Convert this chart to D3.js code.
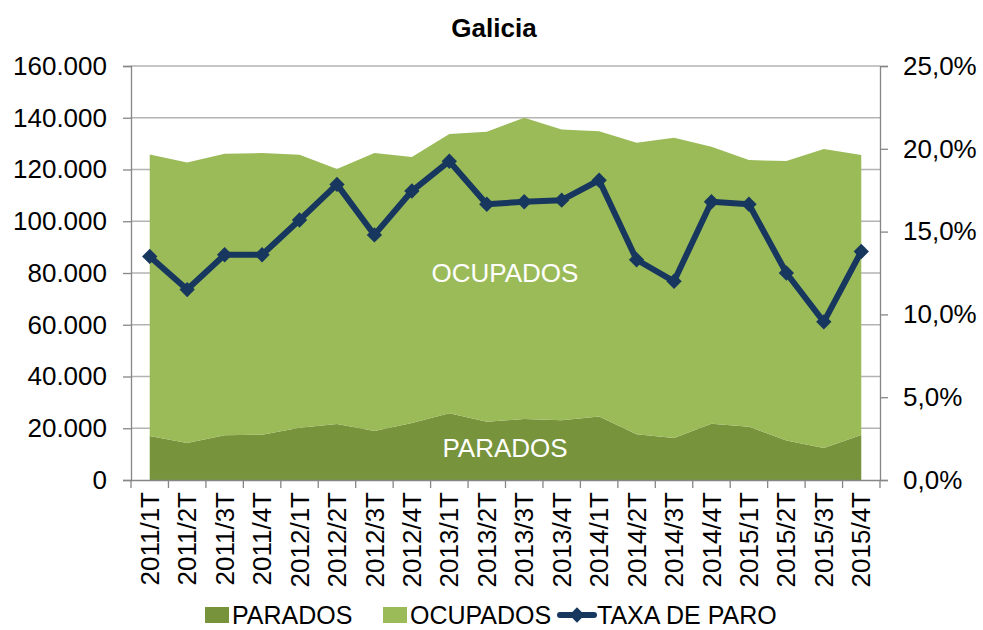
<!DOCTYPE html>
<html><head><meta charset="utf-8">
<script src="https://cdn.jsdelivr.net/npm/d3@7"></script>
<style>
html,body{margin:0;padding:0;background:#fff;}
svg{display:block;font-family:"Liberation Sans",Arial,sans-serif;}
</style></head>
<body><svg id="chart" width="983" height="630"></svg>
<script>
const categories = ["2011/1T","2011/2T","2011/3T","2011/4T","2012/1T","2012/2T","2012/3T","2012/4T","2013/1T","2013/2T","2013/3T","2013/4T","2014/1T","2014/2T","2014/3T","2014/4T","2015/1T","2015/2T","2015/3T","2015/4T"];
const parados = [17000,14300,17250,17500,20200,21650,18900,22050,25750,22550,23550,23050,24500,17650,16200,21750,20600,15300,12350,17350];
const totalActivos = [125800,122750,126100,126350,125700,120150,126350,124800,133700,134600,140000,135500,134750,130350,132300,128800,123650,123250,127900,125600];
const ocupados = totalActivos.map((t,i)=>t-parados[i]);
const taxaParo = [13.5,11.5,13.6,13.6,15.7,17.85,14.8,17.45,19.25,16.65,16.8,16.9,18.1,13.3,12.0,16.8,16.65,12.5,9.55,13.8];
const leftTicks = [0,20000,40000,60000,80000,100000,120000,140000,160000];
const rightTicks = [0,5,10,15,20,25];

const svg = d3.select("#chart");
const L=131, R=880, T=66, B=480;
const locale = d3.formatLocale({decimal:",",thousands:".",grouping:[3],currency:["","€"]});
const fmtL = locale.format(",.0f");
const fmtR = v => locale.format(".1f")(v) + "%";

const x = d3.scaleBand().domain(categories).range([L,R]).padding(0);
const cx = c => x(c) + x.bandwidth()/2;
const y = d3.scaleLinear().domain([0,160000]).range([B,T]);
const y2 = d3.scaleLinear().domain([0,25]).range([B,T]);

// gridlines
svg.append("g").selectAll("line").data(leftTicks.filter(v=>v>0)).join("line")
  .attr("x1",L).attr("x2",R).attr("y1",d=>y(d)).attr("y2",d=>y(d))
  .attr("stroke","#b3b3b3").attr("stroke-width",1.3);

const stackData = categories.map((c,i)=>({c, parados:parados[i], ocupados:ocupados[i]}));
const stack = d3.stack().keys(["parados","ocupados"])(stackData);
const colors = {parados:"#77933C", ocupados:"#9BBB59"};
const area = d3.area().x(d=>cx(d.data.c)).y0(d=>y(d[0])).y1(d=>y(d[1]));
svg.append("g").selectAll("path").data(stack).join("path")
  .attr("d",area).attr("fill",d=>colors[d.key]);

// axes
const gl = svg.append("g").attr("transform",`translate(${L},0)`)
  .call(d3.axisLeft(y).tickValues(leftTicks).tickFormat(fmtL).tickSize(8).tickPadding(16));
const gr = svg.append("g").attr("transform",`translate(${R},0)`)
  .call(d3.axisRight(y2).tickValues(rightTicks).tickFormat(fmtR).tickSize(8).tickPadding(15));
const gb = svg.append("g").attr("transform",`translate(0,${B})`)
  .call(d3.axisBottom(x).tickSize(0).tickFormat(d=>d));
[gl,gr,gb].forEach(g=>{
  g.select(".domain").attr("stroke","#868686").attr("stroke-width",1.3);
  g.selectAll(".tick line").attr("stroke","#868686").attr("stroke-width",1.3);
  g.selectAll("text").attr("font-size",26).attr("fill","#000").attr("font-family","Liberation Sans, Arial, sans-serif");
});
gb.select(".domain").attr("d",`M${L},0.5H${R}`);
gb.selectAll(".tick text").attr("transform","rotate(-90)").attr("text-anchor","end")
  .attr("x",-12).attr("y",0).attr("dy","0.35em");
// category boundary ticks
gb.append("g").selectAll("line").data(categories.map((c,i)=>i).concat([categories.length])).join("line")
  .attr("x1",i=>L + i*x.bandwidth()).attr("x2",i=>L + i*x.bandwidth())
  .attr("y1",0).attr("y2",8).attr("stroke","#868686").attr("stroke-width",1.3);

// line
const line = d3.line().x((d,i)=>cx(categories[i])).y(d=>y2(d));
svg.append("path").datum(taxaParo).attr("d",line).attr("fill","none")
  .attr("stroke","#17375E").attr("stroke-width",6).attr("stroke-linejoin","round");
const diamond = d3.symbol().type(d3.symbolDiamond2).size(150);
svg.append("g").selectAll("path").data(taxaParo).join("path")
  .attr("d",diamond).attr("transform",(d,i)=>`translate(${cx(categories[i])},${y2(d)})`)
  .attr("fill","#17375E");

// in-chart labels
svg.append("text").attr("x",505).attr("y",282).attr("text-anchor","middle")
  .attr("font-size",26).attr("fill","#fff").text("OCUPADOS");
svg.append("text").attr("x",505).attr("y",457).attr("text-anchor","middle")
  .attr("font-size",26).attr("fill","#fff").text("PARADOS");

// title
svg.append("text").attr("x",494).attr("y",37).attr("text-anchor","middle")
  .attr("font-size",26).attr("font-weight","bold").attr("fill","#000").text("Galicia");

// legend
const lg = svg.append("g");
lg.append("rect").attr("x",205).attr("y",607).attr("width",24).attr("height",16).attr("fill",colors.parados);
lg.append("text").attr("x",232).attr("y",624).attr("font-size",25).text("PARADOS");
lg.append("rect").attr("x",383).attr("y",607).attr("width",24).attr("height",16).attr("fill",colors.ocupados);
lg.append("text").attr("x",410).attr("y",624).attr("font-size",25).text("OCUPADOS");
lg.append("line").attr("x1",560).attr("x2",594).attr("y1",615).attr("y2",615).attr("stroke","#17375E").attr("stroke-width",6).attr("stroke-linecap","round");
lg.append("path").attr("d",diamond).attr("transform","translate(577,615)").attr("fill","#17375E");
lg.append("text").attr("x",597).attr("y",624).attr("font-size",25).text("TAXA DE PARO");
</script></body></html>
